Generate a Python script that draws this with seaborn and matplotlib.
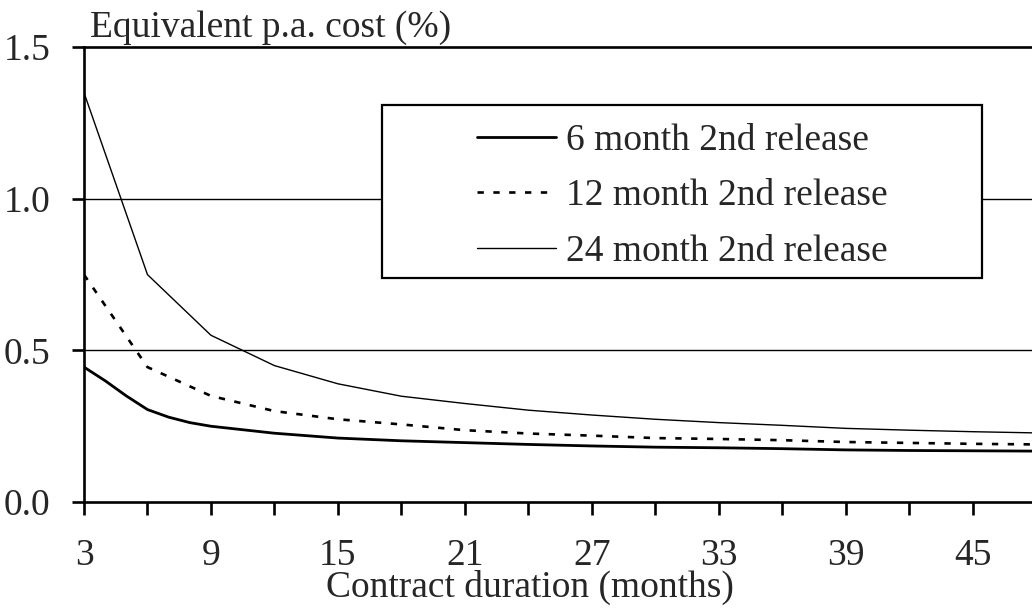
import numpy as np
import pandas as pd
import matplotlib
matplotlib.use("Agg")
import matplotlib.pyplot as plt
import seaborn as sns
from matplotlib.patches import Rectangle

months_6 = [3, 4, 5, 6, 7, 8, 9, 12, 15, 18, 21, 24, 27, 30, 33, 36, 39, 42, 45, 48]
cost_6m = [0.445, 0.40, 0.35, 0.305, 0.28, 0.262, 0.25, 0.227, 0.211, 0.202, 0.196, 0.19, 0.185, 0.181,
           0.179, 0.176, 0.172, 0.170, 0.169, 0.168]
months = [3, 6, 9, 12, 15, 18, 21, 24, 27, 30, 33, 36, 39, 42, 45, 48]
cost_12m = [0.75, 0.445, 0.35, 0.30, 0.273, 0.256, 0.237, 0.226, 0.219, 0.211, 0.208, 0.204, 0.198, 0.195, 0.192, 0.19]
cost_24m = [1.35, 0.75, 0.55, 0.45, 0.39, 0.349, 0.325, 0.303, 0.287, 0.273, 0.262, 0.253, 0.243, 0.237, 0.232, 0.228]
labels = ["6 month 2nd release", "12 month 2nd release", "24 month 2nd release"]

df = pd.DataFrame({"months": months_6 + months + months,
                   "cost": cost_6m + cost_12m + cost_24m,
                   "series": [labels[0]] * len(months_6) + [labels[1]] * len(months) + [labels[2]] * len(months)})

sns.set_style("white")
plt.rcParams['font.family'] = ['Liberation Serif', 'DejaVu Serif']
fs = 27

fig = plt.figure(figsize=(10.32, 6.13), dpi=100)
ax = fig.add_axes([0.0814, 0.181, 0.9225, 0.742])

styles = {labels[0]: (2.0, '-'), labels[1]: (1.9, (0, (2.4, 3.6))), labels[2]: (1.0, '-')}
for lab in labels:
    lw, ls = styles[lab]
    sub = df[df.series == lab]
    sns.lineplot(data=sub, x="months", y="cost", ax=ax, color="black", lw=lw, linestyle=ls, label=lab)

ax.set_xlim(3, 48)
ax.set_ylim(0, 1.5)
ax.set_xticks(np.arange(3, 49, 3))
ax.set_xticklabels([str(m) if (m - 3) % 6 == 0 else "" for m in range(3, 49, 3)])
ax.set_yticks([0, 0.5, 1.0, 1.5])
ax.set_yticklabels(["0.0", "0.5", "1.0", "1.5"])
for y in [0.5, 1.0]:
    ax.axhline(y, color="black", lw=1.0, zorder=0)

for s in ["left", "bottom", "top"]:
    ax.spines[s].set_color("black")
    ax.spines[s].set_linewidth(1.9)
ax.spines["right"].set_visible(False)
ax.tick_params(axis="both", direction="out", length=9, width=1.9, color="black", labelsize=fs,
               bottom=True, left=True)
ax.tick_params(axis="x", pad=17)
ax.tick_params(axis="y", pad=15)

ax.set_xlabel("Contract duration (months)", fontsize=fs)
ax.xaxis.set_label_coords(0.4685, -0.149)
ax.set_ylabel("")
ax.text(0.006, 1.004, "Equivalent p.a. cost (%)", transform=ax.transAxes, fontsize=fs, va="bottom", ha="left")

# legend box drawn as its own frame
ax.add_patch(Rectangle((0.313, 0.492), 0.63, 0.38, transform=ax.transAxes, facecolor="white",
                       edgecolor="black", lw=1.6, zorder=3))
leg = ax.legend(loc="center left", bbox_to_anchor=(0.413, 0.6725), frameon=False,
                handlelength=2.1, handletextpad=0.27, labelspacing=0.56, borderpad=0, borderaxespad=0,
                fontsize=fs)
leg.set_zorder(4)

fig.savefig("out.png", dpi=100)
